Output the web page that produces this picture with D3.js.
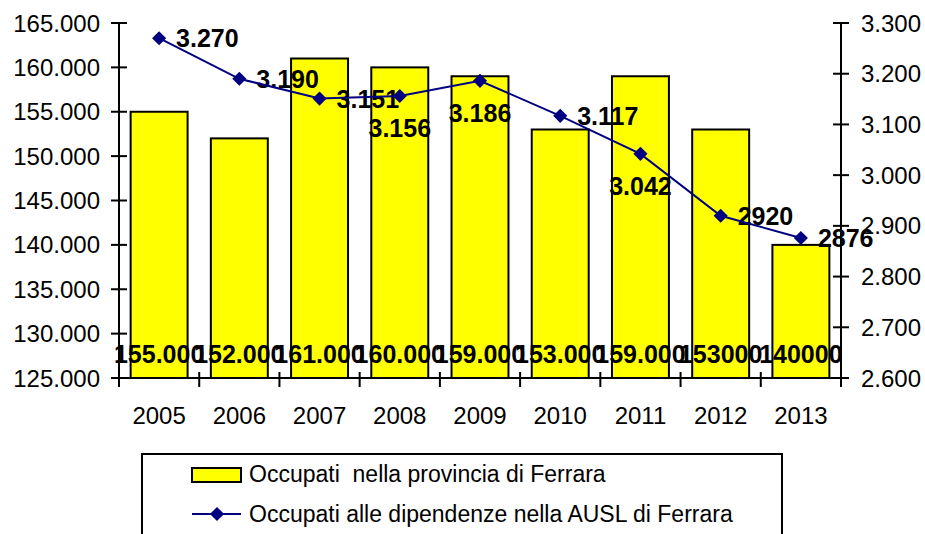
<!DOCTYPE html>
<html>
<head>
<meta charset="utf-8">
<script src="https://cdn.jsdelivr.net/npm/d3@7/dist/d3.min.js"></script>
<style>
  html, body { margin: 0; padding: 0; background: #ffffff; }
  svg { display: block; font-family: "Liberation Sans", Arial, sans-serif; }
</style>
</head>
<body>
<svg id="chart" width="925" height="534"></svg>
<script>
// Anni
const years = ["2005", "2006", "2007", "2008", "2009", "2010", "2011", "2012", "2013"];

// Occupati nella provincia di Ferrara (barre, asse sinistro)
const provinceValues = [155000, 152000, 161000, 160000, 159000, 153000, 159000, 153000, 140000];
const provinceLabels = ["155.000", "152.000", "161.000", "160.000", "159.000", "153.000", "159.000", "153000", "140000"];

// Occupati alle dipendenze nella AUSL di Ferrara (linea, asse destro)
const auslValues = [3270, 3190, 3151, 3156, 3186, 3117, 3042, 2920, 2876];
const auslLabels = ["3.270", "3.190", "3.151", "3.156", "3.186", "3.117", "3.042", "2920", "2876"];
const auslLabelSide = ["right", "right", "right", "below", "below", "right", "below", "right", "right"];

// Tick degli assi
const leftTicks = [125000, 130000, 135000, 140000, 145000, 150000, 155000, 160000, 165000];
const rightTicks = [2600, 2700, 2800, 2900, 3000, 3100, 3200, 3300];

const legendNames = ["Occupati  nella provincia di Ferrara", "Occupati alle dipendenze nella AUSL di Ferrara"];

const it = d3.formatLocale({ decimal: ",", thousands: ".", grouping: [3], currency: ["€", ""] });
const fmt = it.format(",.0f");

const svg = d3.select("#chart");
const plot = { left: 119, right: 841, top: 23, bottom: 378 };

const x = d3.scaleBand().domain(years).range([plot.left, plot.right])
  .paddingInner(0.29).paddingOuter(0.145);
const yL = d3.scaleLinear().domain([125000, 165000]).range([plot.bottom, plot.top]);
const yR = d3.scaleLinear().domain([2600, 3300]).range([plot.bottom, plot.top]);

// Barre
svg.append("g").selectAll("rect").data(years).join("rect")
  .attr("x", d => x(d))
  .attr("y", (d, i) => yL(provinceValues[i]))
  .attr("width", x.bandwidth())
  .attr("height", (d, i) => yL(125000) - yL(provinceValues[i]))
  .attr("fill", "#ffff00")
  .attr("stroke", "#000")
  .attr("stroke-width", 2);

// Assi
const axisG = svg.append("g").attr("stroke", "#000").attr("stroke-width", 2);
axisG.append("line").attr("x1", plot.left).attr("x2", plot.left).attr("y1", plot.top).attr("y2", plot.bottom);
axisG.append("line").attr("x1", plot.right).attr("x2", plot.right).attr("y1", plot.top).attr("y2", plot.bottom);
axisG.append("line").attr("x1", plot.left).attr("x2", plot.right).attr("y1", plot.bottom).attr("y2", plot.bottom);

axisG.selectAll(".lt").data(leftTicks).join("line").attr("class", "lt")
  .attr("x1", plot.left - 8).attr("x2", plot.left + 8)
  .attr("y1", d => yL(d)).attr("y2", d => yL(d));
axisG.selectAll(".rt").data(rightTicks).join("line").attr("class", "rt")
  .attr("x1", plot.right - 8).attr("x2", plot.right + 8)
  .attr("y1", d => yR(d)).attr("y2", d => yR(d));
const step = x.step();
axisG.selectAll(".xt").data(d3.range(years.length + 1)).join("line").attr("class", "xt")
  .attr("x1", i => plot.left + i * step).attr("x2", i => plot.left + i * step)
  .attr("y1", plot.bottom - 6).attr("y2", plot.bottom + 9);

svg.append("g").selectAll("text").data(leftTicks).join("text")
  .attr("x", 100).attr("y", d => yL(d) + 8.5)
  .attr("text-anchor", "end").attr("font-size", 24).attr("fill", "#000")
  .text(d => fmt(d));
svg.append("g").selectAll("text").data(rightTicks).join("text")
  .attr("x", 861).attr("y", d => yR(d) + 8.5)
  .attr("text-anchor", "start").attr("font-size", 24).attr("fill", "#000")
  .text(d => fmt(d));
svg.append("g").selectAll("text").data(years).join("text")
  .attr("x", d => x(d) + x.bandwidth() / 2).attr("y", 424)
  .attr("text-anchor", "middle").attr("font-size", 24).attr("fill", "#000")
  .text(d => d);

// Etichette delle barre
svg.append("g").selectAll("text").data(years).join("text")
  .attr("x", d => x(d) + x.bandwidth() / 2).attr("y", 363)
  .attr("text-anchor", "middle").attr("font-size", 25).attr("font-weight", "bold").attr("fill", "#000")
  .text((d, i) => provinceLabels[i]);

// Etichette della linea
const cx = d => x(d) + x.bandwidth() / 2;
svg.append("g").selectAll("text").data(years).join("text")
  .attr("x", (d, i) => auslLabelSide[i] === "right" ? cx(d) + 17 : cx(d))
  .attr("y", (d, i) => auslLabelSide[i] === "right" ? yR(auslValues[i]) + 9 : yR(auslValues[i]) + 41)
  .attr("text-anchor", (d, i) => auslLabelSide[i] === "right" ? "start" : "middle")
  .attr("font-size", 25).attr("font-weight", "bold").attr("fill", "#000")
  .text((d, i) => auslLabels[i]);

// Linea e marcatori
const line = d3.line().x((d, i) => cx(years[i])).y(d => yR(d));
svg.append("path").datum(auslValues).attr("d", line)
  .attr("fill", "none").attr("stroke", "#000080").attr("stroke-width", 2);
svg.append("g").selectAll("path").data(auslValues).join("path")
  .attr("transform", (d, i) => `translate(${cx(years[i])},${yR(d)}) rotate(45)`)
  .attr("d", d3.symbol().type(d3.symbolSquare).size(100))
  .attr("fill", "#000080");

// Legenda
const lg = svg.append("g");
lg.append("rect").attr("x", 142).attr("y", 454).attr("width", 640).attr("height", 100)
  .attr("fill", "#fff").attr("stroke", "#000").attr("stroke-width", 2);
lg.append("rect").attr("x", 192).attr("y", 468).attr("width", 49).attr("height", 14)
  .attr("fill", "#ffff00").attr("stroke", "#000").attr("stroke-width", 2);
lg.append("line").attr("x1", 192).attr("x2", 241).attr("y1", 514).attr("y2", 514)
  .attr("stroke", "#000080").attr("stroke-width", 2);
lg.append("path").attr("transform", "translate(217,514) rotate(45)")
  .attr("d", d3.symbol().type(d3.symbolSquare).size(100)).attr("fill", "#000080");
lg.selectAll("text.lgt").data(legendNames).join("text").attr("class", "lgt")
  .attr("x", 249).attr("y", (d, i) => 474 + i * 40 + 8)
  .attr("font-size", 23).attr("fill", "#000")
  .attr("xml:space", "preserve").style("white-space", "pre")
  .text(d => d);
</script>
</body>
</html>
